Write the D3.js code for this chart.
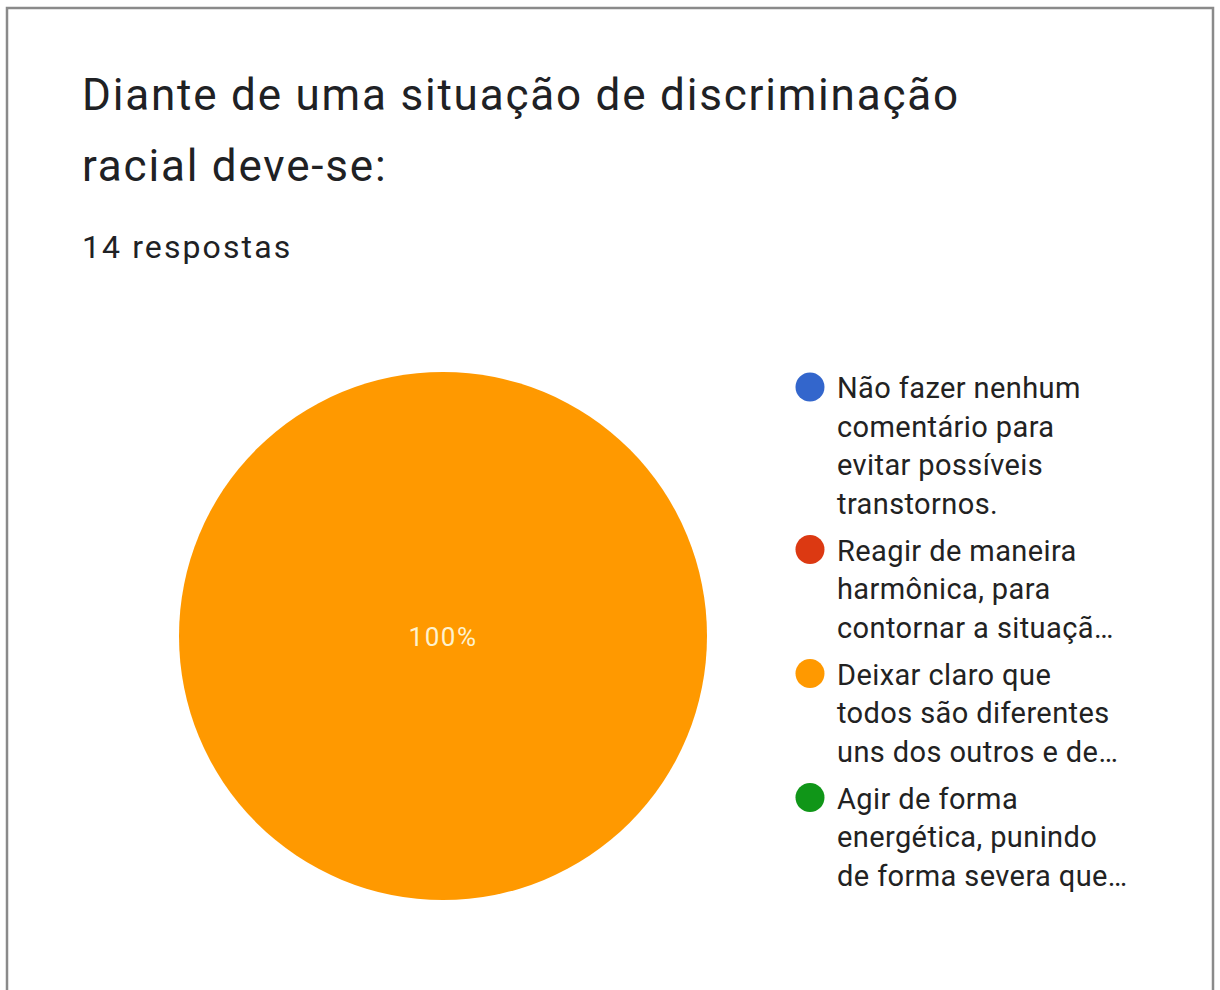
<!DOCTYPE html>
<html>
<head>
<meta charset="utf-8">
<script src="https://cdn.jsdelivr.net/npm/d3@7"></script>
<style>
  html, body { margin: 0; padding: 0; background: #ffffff; }
  svg { display: block; }
</style>
</head>
<body>
<svg id="chart" width="1220" height="990"></svg>
<script>
// Survey question and answer summary
const titleLines = ["Diante de uma situação de discriminação", "racial deve-se:"];
const responseCount = "14 respostas";

// Answer options (legend text, wrapped and truncated like the form summary)
const categories = [
  ["Não fazer nenhum", "comentário para", "evitar possíveis", "transtornos."],
  ["Reagir de maneira", "harmônica, para", "contornar a situaçã…"],
  ["Deixar claro que", "todos são diferentes", "uns dos outros e de…"],
  ["Agir de forma", "energética, punindo", "de forma severa que…"]
];
const counts = [0, 0, 14, 0];
const colors = ["#3366cc", "#dc3912", "#ff9900", "#109618"];

const svg = d3.select("#chart");
const W = 1220, H = 990;
const FONT = "Roboto, 'Noto Sans', sans-serif";

// Card outline
svg.append("rect")
  .attr("x", 7).attr("y", 8)
  .attr("width", W - 14).attr("height", H + 20)
  .attr("fill", "#ffffff")
  .attr("stroke", "#8a8a8a")
  .attr("stroke-width", 2.5);

// Title and response count
const titleG = svg.append("g").attr("font-family", FONT);
titleLines.forEach((t, i) => {
  titleG.append("text")
    .attr("x", 82).attr("y", 110 + i * 71)
    .attr("font-size", 44)
    .attr("letter-spacing", 1.8)
    .attr("fill", "#202124")
    .text(t);
});
titleG.append("text")
  .attr("x", 82).attr("y", 258)
  .attr("font-size", 32)
  .attr("letter-spacing", 2.1)
  .attr("fill", "#202124")
  .text(responseCount);

// Pie
const cx = 443, cy = 636, r = 264;
const total = d3.sum(counts);
const pie = d3.pie().sort(null).value(d => d)(counts);
const arc = d3.arc().innerRadius(0).outerRadius(r);
const color = d3.scaleOrdinal().domain(d3.range(categories.length)).range(colors);

const pieG = svg.append("g").attr("transform", `translate(${cx},${cy})`);
pieG.selectAll("path")
  .data(pie.filter(d => d.value > 0))
  .join("path")
  .attr("d", arc)
  .attr("fill", d => color(d.index));

const fmt = d3.format(".0%");
pieG.selectAll("text.pct")
  .data(pie.filter(d => d.value > 0))
  .join("text")
  .attr("class", "pct")
  .attr("transform", d => {
    // A full circle keeps its label in the centre
    if (d.endAngle - d.startAngle >= 2 * Math.PI - 1e-6) return "translate(0,1)";
    const c = d3.arc().innerRadius(r * 0.6).outerRadius(r * 0.6).centroid(d);
    return `translate(${c[0]},${c[1]})`;
  })
  .attr("dy", "0.35em")
  .attr("text-anchor", "middle")
  .attr("font-family", FONT)
  .attr("font-size", 26)
  .attr("letter-spacing", 1.5)
  .attr("fill", "#fdf2cf")
  .text(d => fmt(d.value / total));

// Legend
const legendX = 810;
const lineH = 38.5;
const itemGap = 8.5;
const legendG = svg.append("g").attr("font-family", FONT);
let y = 387;
categories.forEach((lines, i) => {
  legendG.append("circle")
    .attr("cx", legendX).attr("cy", y)
    .attr("r", 14.5)
    .attr("fill", color(i));
  lines.forEach((ln, j) => {
    legendG.append("text")
      .attr("x", 837).attr("y", y + 11 + j * lineH)
      .attr("font-size", 29)
      .attr("letter-spacing", 0.4)
      .attr("fill", "#222222")
      .text(ln);
  });
  y += lines.length * lineH + itemGap;
});
</script>
</body>
</html>
